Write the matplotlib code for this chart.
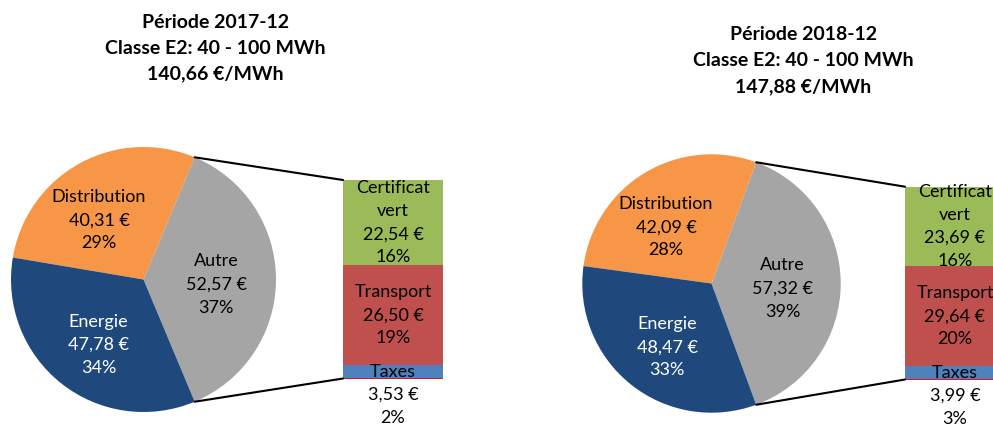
import numpy as np
import matplotlib
matplotlib.use("Agg")
import matplotlib.pyplot as plt
from matplotlib.patches import ConnectionPatch

plt.rcParams['font.family'] = ['Lato', 'DejaVu Sans']

W, H = 993, 426

# data
periods = ["2017-12", "2018-12"]
classe = "Classe E2: 40 - 100 MWh"
totals = ["140,66 €/MWh", "147,88 €/MWh"]

pie_labels = ["Autre", "Distribution", "Energie"]
pie_2017 = [52.57, 40.31, 47.78]
pie_2018 = [57.32, 42.09, 48.47]
pie_pct_2017 = ["37%", "29%", "34%"]
pie_pct_2018 = ["39%", "28%", "33%"]

bar_labels = ["Certificat\nvert", "Transport", "Taxes"]
bar_2017 = [22.54, 26.50, 3.53]
bar_2018 = [23.69, 29.64, 3.99]
bar_pct_2017 = ["16%", "19%", "2%"]
bar_pct_2018 = ["16%", "20%", "3%"]

pie_colors = ["#A5A5A5", "#F79646", "#1F497D"]
pie_text_colors = ["black", "black", "white"]
bar_colors = ["#9BBB59", "#C0504D", "#4F81BD"]

# layout (pixels)
layouts = [
    dict(cx=143.5, cy=279.5, r=132.5, bx=343, bw=100, btop=180, bbot=378.5, tx=215, ty=22),
    dict(cx=711.5, cy=283.5, r=129.2, bx=905, bw=100, btop=186.7, bbot=379.5, tx=803, ty=35),
]

def euro(v):
    return ("%.2f €" % v).replace(".", ",")

fig = plt.figure(figsize=(W / 100, H / 100), dpi=100)

sets = [(pie_2017, pie_pct_2017, bar_2017, bar_pct_2017),
        (pie_2018, pie_pct_2018, bar_2018, bar_pct_2018)]

LS = 1.55  # line spacing of the data labels

for k, (pv, pp, bv, bp) in enumerate(sets):
    L = layouts[k]
    # title
    lines = ["Période " + periods[k], classe, totals[k]]
    for i, t in enumerate(lines):
        fig.text(L['tx'] / W, 1 - (L['ty'] + 26 * i) / H, t, ha='center', va='center',
                 fontsize=14, fontweight='bold')

    # pie
    axp = fig.add_axes([(L['cx'] - L['r']) / W, (H - L['cy'] - L['r']) / H,
                        2 * L['r'] / W, 2 * L['r'] / H])
    start = -pv[0] / sum(pv) * 360 / 2
    wedges, _ = axp.pie(pv, colors=pie_colors, startangle=start, counterclock=True,
                        radius=1, wedgeprops=dict(linewidth=0))
    axp.set_xlim(-1, 1)
    axp.set_ylim(-1, 1)
    axp.set_aspect('equal')
    axp.axis('off')
    offs = [-4, 8, 4]
    dists = [0.55, 0.56, 0.6]
    for i, w in enumerate(wedges):
        ang = np.deg2rad((w.theta1 + w.theta2) / 2 + offs[i])
        axp.text(dists[i] * np.cos(ang), dists[i] * np.sin(ang),
                 pie_labels[i] + "\n" + euro(pv[i]) + "\n" + pp[i],
                 ha='center', va='center', fontsize=13, color=pie_text_colors[i],
                 linespacing=LS)

    # stacked bar
    axb = fig.add_axes([L['bx'] / W, (H - L['bbot']) / H, L['bw'] / W,
                        (L['bbot'] - L['btop']) / H])
    total = sum(bv)
    bottom = total
    for i, v in enumerate(bv):
        bottom -= v
        axb.bar(0, v, bottom=bottom, width=1, color=bar_colors[i], linewidth=0)
        mid = bottom + v / 2
        if i < 2:
            axb.text(0, mid, bar_labels[i] + "\n" + euro(v) + "\n" + bp[i],
                     ha='center', va='center', fontsize=13, linespacing=LS, clip_on=False)
        else:
            axb.text(0, mid, bar_labels[i], ha='center', va='center', fontsize=13, clip_on=False)
            axb.annotate(euro(v) + "\n" + bp[i], xy=(0, 0), xytext=(0, -20),
                         textcoords='offset points', ha='center', va='center',
                         fontsize=13, linespacing=LS, annotation_clip=False)
    axb.axhline(0, color='#FF0000', linewidth=1.2)
    axb.set_xlim(-0.5, 0.5)
    axb.set_ylim(0, total)
    axb.axis('off')

    # connector lines from the "Autre" wedge edges to the bar corners
    a1 = np.deg2rad(wedges[0].theta1)
    a2 = np.deg2rad(wedges[0].theta2)
    for ang, yb in [(a2, total), (a1, 0)]:
        con = ConnectionPatch(xyA=(np.cos(ang), np.sin(ang)), coordsA=axp.transData,
                              xyB=(-0.5, yb), coordsB=axb.transData,
                              color='black', linewidth=1.5)
        fig.add_artist(con)

fig.savefig("out.png", dpi=100)
